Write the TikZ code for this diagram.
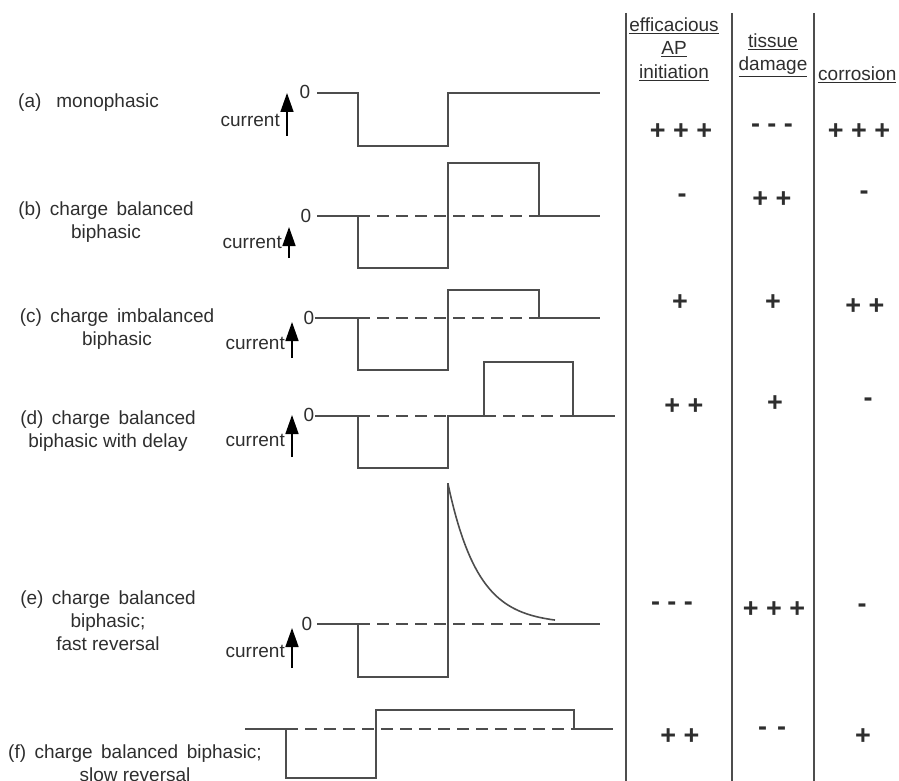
\documentclass[tikz,border=0pt]{standalone}
\usepackage{fontspec}
\setmainfont{Liberation Sans}
\usetikzlibrary{arrows.meta}
\definecolor{ink}{HTML}{2E2E2E}
\definecolor{wavec}{HTML}{4D4D4D}
\newcommand\widesp{\spaceskip=8.5pt plus 1pt\relax}
\begin{document}
\begin{tikzpicture}[x=1pt,y=-1pt,
  wave/.style={draw=wavec,line width=1.8pt},
  zeroline/.style={draw=wavec,line width=1.8pt,dash pattern=on 12pt off 7pt},
  colline/.style={draw=wavec,line width=2pt},
  txt/.style={text=ink,inner sep=0pt,align=center,font=\fontsize{19}{23}\selectfont},
  head/.style={text=ink,inner sep=0pt,align=center,font=\fontsize{19}{23.5}\selectfont},
  cur/.style={text=ink,inner sep=0pt,anchor=east,font=\fontsize{19}{23}\selectfont},
  zlab/.style={text=ink,inner sep=0pt,font=\fontsize{19}{23}\selectfont},
  axisarrow/.style={draw=black,line width=1.6pt,-{Triangle[width=13pt,length=19pt]}},
  sign/.style={text=ink,inner sep=0pt,font=\fontsize{27}{30}\selectfont\bfseries}]
\useasboundingbox (0,0) rectangle (899,781);

% ---- column lines ----
\draw[colline] (626,13) -- (626,781);
\draw[colline] (732,13) -- (732,781);
\draw[colline] (814,13) -- (814,781);

% ---- headers ----
\node[head] (h1) at (674,49) {\underline{efficacious}\\\underline{AP}\\\underline{initiation}};
\node[head] (h2) at (773,55) {\underline{tissue}\\\underline{damage}};
\node[head,anchor=west] (h3) at (818,75) {\underline{corrosion}};

% ---- row labels ----
\node[txt,anchor=west] (la) at (18,103) {(a)\hspace{15pt}monophasic};
\node[txt] (lb) at (106,222) {\widesp(b) charge balanced\\biphasic};
\node[txt] (lc) at (117,329) {\widesp(c) charge imbalanced\\biphasic};
\node[txt] (ld) at (108,431) {\widesp(d) charge balanced\\biphasic with delay};
\node[txt] (le) at (108,621) {\widesp(e) charge balanced\\biphasic;\\fast reversal};
\node[txt] (lf) at (135,763) {\widesp(f) charge balanced biphasic;\\slow reversal};

% ---- current axes ----
\node[cur] (ca) at (280,120) {current};
\node[cur] (cb) at (282,242) {current};
\node[cur] (cc) at (285,343) {current};
\node[cur] (cd) at (285,440) {current};
\node[cur] (ce) at (285,651) {current};
\coordinate (aa0) at (287,136); \coordinate (aa1) at (287,93);
\coordinate (ab0) at (289,258); \coordinate (ab1) at (289,227);
\coordinate (ac0) at (292,358); \coordinate (ac1) at (292,322);
\coordinate (ad0) at (292,457); \coordinate (ad1) at (292,415);
\coordinate (ae0) at (292,668); \coordinate (ae1) at (292,628);
\draw[axisarrow] (aa0) -- (aa1);
\draw[axisarrow] (ab0) -- (ab1);
\draw[axisarrow] (ac0) -- (ac1);
\draw[axisarrow] (ad0) -- (ad1);
\draw[axisarrow] (ae0) -- (ae1);

\node[zlab] (za) at (305,92) {0};
\node[zlab] (zb) at (306,216) {0};
\node[zlab] (zc) at (309,318) {0};
\node[zlab] (zd) at (309,415) {0};
\node[zlab] (ze) at (307,624) {0};

% ---- (a) monophasic ----
\draw[wave] (317,93) -- (358,93) -- (358,146) -- (448,146) -- (448,93) -- (600,93);

% ---- (b) ----
\draw[zeroline] (358,216) -- (539,216);
\draw[wave] (317,216) -- (358,216) -- (358,268) -- (448,268) -- (448,163) -- (539,163) -- (539,216) -- (600,216);

% ---- (c) ----
\draw[zeroline] (358,318) -- (539,318);
\draw[wave] (315,318) -- (358,318) -- (358,370) -- (448,370) -- (448,290) -- (539,290) -- (539,318) -- (600,318);

% ---- (d) ----
\draw[zeroline] (358,416) -- (448,416);
\draw[zeroline] (484,416) -- (573,416);
\draw[wave] (315,416) -- (358,416) -- (358,468) -- (448,468) -- (448,416) -- (484,416) -- (484,362) -- (573,362) -- (573,416) -- (615,416);

% ---- (e) ----
\draw[zeroline] (358,624) -- (553,624);
\draw[wave] (317,624) -- (358,624) -- (358,677) -- (448,677) -- (448,483);
\draw[wave,line width=1.6pt] plot[domain=0:107,samples=80,smooth] ({448+\x},{624-140*exp(-\x/30)});
\draw[wave] (553,624) -- (600,624);

% ---- (f) ----
\draw[zeroline] (286,729) -- (574,729);
\draw[wave] (245,729) -- (286,729) -- (286,778) -- (376,778) -- (376,710) -- (574,710) -- (574,729) -- (613,729);

% ---- ratings ----
\node[sign] (sa1) at (681,132) {+ + +};
\node[sign] (sa2) at (772,128) {- - -};
\node[sign] (sa3) at (859,132) {+ + +};
\node[sign] (sb1) at (682,198) {-};
\node[sign] (sb2) at (772,200) {+ +};
\node[sign] (sb3) at (864,195) {-};
\node[sign] (sc1) at (680,303) {+};
\node[sign] (sc2) at (773,303) {+};
\node[sign] (sc3) at (865,307) {+ +};
\node[sign] (sd1) at (684,407) {+ +};
\node[sign] (sd2) at (775,404) {+};
\node[sign] (sd3) at (868,402) {-};
\node[sign] (se1) at (672,606) {- - -};
\node[sign] (se2) at (774,610) {+ + +};
\node[sign] (se3) at (862,608) {-};
\node[sign] (sf1) at (680,737) {+ +};
\node[sign] (sf2) at (772,731) {-\hspace{10pt}-};
\node[sign] (sf3) at (863,737) {+};
\end{tikzpicture}
\end{document}
